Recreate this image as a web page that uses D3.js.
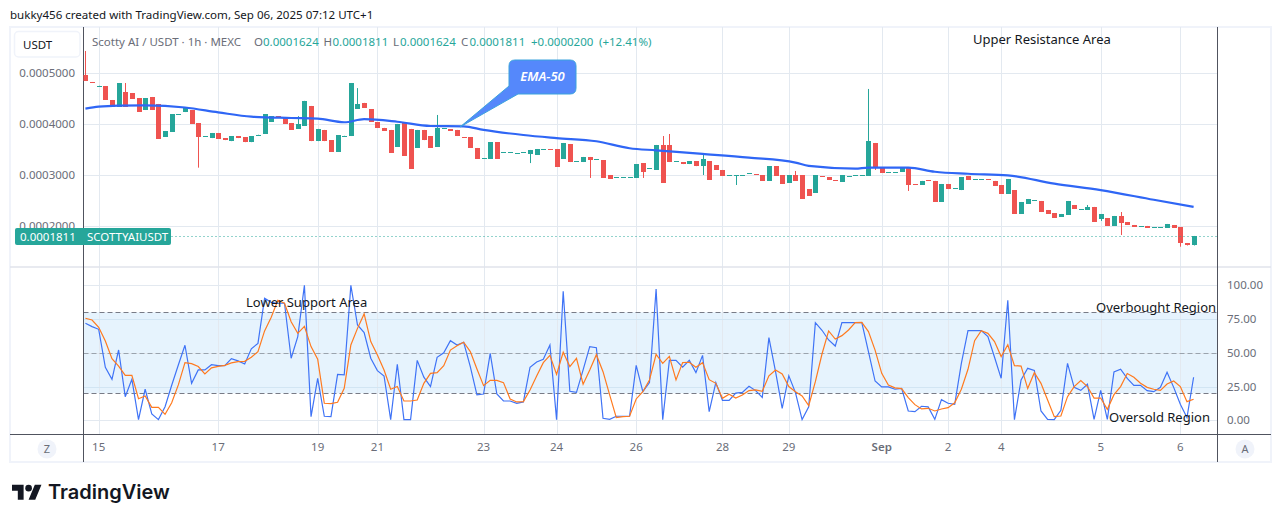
<!DOCTYPE html>
<html>
<head>
<meta charset="utf-8">
<title>SCOTTYAI/USDT</title>
<script src="https://cdn.jsdelivr.net/npm/d3@7/dist/d3.min.js"></script>
<style>
  html, body { margin: 0; padding: 0; background: #fff; }
  svg { display: block; }
  text { font-family: "Noto Sans", "Open Sans", sans-serif; }
</style>
</head>
<body>
<svg id="chart" width="1281" height="522"></svg>
<script>
// Prices are held in millionths of a USDT
const opens = [
  496.7,483,475.5,475,447.7,434,463.4,461.4,451.6,428,
  453.6,439.9,375.2,385,419.2,424,428,402,376,373,
  383,373,367,377,375,365,379.5,381,405,416,
  414,402.6,391,397,436,367,389,369,346,377.6,
  377,430,442,430,404.6,393,389,355.6,402.6,391,
  353.6,389,377,355.6,391.6,390,389,375,375,353.6,
  332.6,332,365,344.6,344.6,342.6,344.6,342,340,350.6,
  351.5,351.6,332,361.4,327.1,326,336,330.6,330,300.6,
  295.6,295.6,295.6,294.8,324,313.3,310.5,359.5,359.5,327.1,
  326,322,328,318,328,320,310.5,299.6,299.6,299.6,
  303.6,302.5,300.6,289,318,300.6,285,300.6,300.6,273,
  265.4,298.5,296.7,290.5,287,298.3,299.6,299.6,298.7,363.4,
  314.4,305.6,305.6,306.5,314.4,282.4,281,290.4,289,247.7,
  283,274.1,271,298.7,291.6,291.6,292.4,289,281,263.4,
  271,224.2,243.8,250.6,249.7,232,226,218.3,222.2,241.8,
  232.9,232,238,214.4,216.3,200.7,220.3,208.5,202.6,199.6,
  200.7,197.6,197.6,196.7,202.6,198.7,167.3,162.4
];
const closes = [
  485,481.5,476,448.4,434,481,434,449.7,424.2,451.6,
  428,371.2,386.9,420,419.8,432.7,400.7,375,376.6,383,
  372,369,377,373,365,377,380,420,416,414,
  401,389,400.7,446,367,391,367,346,379,378,
  481,439,432,404.6,393,387,344,400.7,338,312.4,
  389,369,353.6,392.8,392,387,377,374.5,353.6,332,
  333,365,332,345,345,343,345,349.7,351.6,351,
  351,316.3,363.4,326,327.5,336,330,331,294.8,292.8,
  296,296,296,322,306.5,313.7,359.5,285,326,327.5,
  322,328,318,332,291,310.5,298.7,300,300,300,
  304,302,289,318,298.7,283,300.6,289,253.6,259.5,
  300.6,298,291,290,300.6,298.7,300,300,367.3,314.4,
  304.6,306,306,314.4,281,282,289,290,247.7,283,
  273,274.5,296.7,291,292,292,292,279,263.4,292.8,
  224.2,247.7,253.6,251,228,224.2,216.3,224.2,249.7,234,
  233.3,238,208.5,224.2,200.7,220.3,206.5,202.6,198.7,200,
  196.7,198,198,204.6,196.7,167.3,162.4,181.1
];
// Candles whose wick runs past the body: [candle, price]
const upperWicks = [[0,543.8],[6,481],[32,416],[41,471],[53,418.3],[87,377],[88,381],[93,342],[107,308.5],[118,469.3],[151,241.8],[156,228]];
const lowerWicks = [[17,315],[67,324],[76,294.8],[84,294.8],[93,300.6],[98,281],[119,310.5],[124,269.3],[153,210.5],[156,183],[165,160]];

// EMA-50, read at the candles where its slope changes
const emaCandles = [0,2,5,9,15,20,25,31,35,39,42,47,52,57,60,66,71,77,82,86,93,100,107,109,116,118,124,128,133,139,146,153,161,167];
const emaValues = [430.7,434.6,436.6,437,433,423.5,415,412.4,411,404,410,405,396.7,396,389,379,373,366.7,353,349,342,334.6,325,318.3,313,315,315,307,303,300,283.7,271,252,238];

// Stochastic RSI, one value per candle
const stochK = [
  71.9,69.4,67.4,39.3,30.4,52.1,17.5,30.4,0.5,23,4.7,0.5,10,26,41,55.6,27.4,37.3,37.3,41.2,
  40.5,40.5,45.7,44,41.7,53,57,90.4,87.4,86.7,86.7,46,62,100,2.7,31,3,2.7,34,33.6,
  100,70.6,65,46,36.8,32.8,0.5,41.5,0.5,0.5,44.4,32,25,46.7,50,59,55.8,57.8,39.8,18.8,
  19.5,49.6,19.5,14.3,14.3,12.6,13.6,39.3,43.2,45.2,55.8,0.5,95.6,21.5,20.7,37.3,54.6,53.8,1.5,0.7,
  3,3,3,40.7,21.2,27.9,97.3,0.5,44.4,44.4,39.3,44.4,35.3,48.1,6.4,27.9,14.8,14.8,20.2,20.7,
  25.2,22,17,61.2,36,8.9,33,20.5,0.5,10,72.3,66.7,59.5,55,72.3,72.3,72.3,72.3,50.9,29.1,
  24.7,24.7,23,23.7,6.9,6.4,10.4,9.9,0.7,15.3,12.6,11.9,42.2,66.4,66.4,66.4,62,46.7,31.1,88.9,
  0.5,29.9,38.5,37,6.9,0.7,0.5,7.4,42.2,24.4,22.2,26.7,0.7,22.2,0.7,35.8,37.8,31,25.9,25.9,
  22,21.2,24.4,35.6,24.4,11.9,2,31.9
];
const stochD = [
  75.6,74.3,68.9,58.8,45.7,40.2,33.3,33.3,16,18,9.6,9.6,4.4,13,26.2,42.7,42,39.8,34.3,38.8,
  40,40.7,42.5,43.5,43.7,46.7,50.9,66.2,76.3,88.9,86.7,73,64.4,69.6,54.6,45.2,12.6,12.3,13.3,23.7,
  55.8,68.1,78.8,58.3,48.4,37.3,23,25,14.3,14.3,15,27.4,34.8,35.3,40.5,52,55.3,57.8,50.9,38,
  25.7,29.6,29.6,27.9,15.8,13.6,13.8,22.5,32.8,42.7,48.1,34,50.4,39.8,45.9,26.7,37.3,48.6,36,18.8,
  2,2.7,3,15.8,21.2,29.9,48.9,42.2,47.4,29.9,42.7,43,39.3,42.7,30.1,27.4,16.3,19.3,16.5,18.8,
  22,22.5,21.5,33,37.3,34.3,25,21.2,18,10.9,28.6,49.1,66.2,60.2,62.7,66.9,72.3,72.6,65.7,52,
  34.8,26.2,24,23.5,16.8,11.6,8.4,8.9,6.9,8.4,9.4,13,23,37.8,59,66.4,64.4,58.3,47.2,56,
  40.5,40.2,23.5,35.3,27.4,15,2.7,3.2,17.5,25,29.4,25,16.5,16.5,8.1,19,25,34.6,31.9,27.4,
  24.4,23,22.2,26.9,29.1,25,13.8,15.6
];

// Axis ticks
const priceTicks = [200, 300, 400, 500];
const rsiTicks = [0, 25, 50, 75, 100];
const rsiLevels = [20, 50, 80];
const dateCandles = [2,20,35,44,60,71,83,96,106,120,130,138,153,165];
const dateLabels = ["15","17","19","21","23","24","26","28","29","Sep","2","4","5","6"];

const lastPrice = 181.1;

const GREEN = "#26a69a", RED = "#ef5350", GRID = "#e3e9f0", DARK = "#50535e", MUTED = "#6a6d78";
const frame = { left: 10, top: 27, right: 1271, bottom: 462 };
const axisLeft = 83.5, axisRight = 1217.5, paneSplit = 267, paneBottom = 434.5;
const labelSize = 11.5;

const x = d3.scaleLinear().domain([0, 167]).range([85.43, 1193.6]);
const y = d3.scaleLinear().domain([200, 500]).range([226.3, 73.3]);
const r = d3.scaleLinear().domain([0, 100]).range([420.3, 285.3]);

const svg = d3.select("#chart");
svg.append("defs").append("clipPath").attr("id", "plot")
  .append("rect").attr("x", axisLeft).attr("y", frame.top)
  .attr("width", axisRight - axisLeft).attr("height", paneBottom - frame.top);

// Credit line above the frame
svg.append("text").attr("x", 10).attr("y", 19).attr("font-size", 11.55).attr("fill", "#131722")
  .text("bukky456 created with TradingView.com, Sep 06, 2025 07:12 UTC+1");

svg.append("rect")
  .attr("x", frame.left).attr("y", frame.top)
  .attr("width", frame.right - frame.left).attr("height", frame.bottom - frame.top)
  .attr("fill", "#fff").attr("stroke", "#f0f3fa").attr("stroke-width", 2);

// Overbought/oversold band
svg.append("rect").attr("x", axisLeft).attr("y", r(80))
  .attr("width", axisRight - axisLeft).attr("height", r(20) - r(80))
  .attr("fill", "#e6f3fd");

// Grid
const grid = svg.append("g").attr("stroke", GRID).attr("stroke-width", 1);
grid.selectAll(".vgrid").data(dateCandles).join("line").attr("class", "vgrid")
  .attr("x1", d => Math.round(x(d)) + 0.5).attr("x2", d => Math.round(x(d)) + 0.5)
  .attr("y1", frame.top).attr("y2", paneBottom);
grid.selectAll(".pgrid").data(priceTicks).join("line").attr("class", "pgrid")
  .attr("x1", axisLeft).attr("x2", axisRight)
  .attr("y1", d => Math.round(y(d)) + 0.5).attr("y2", d => Math.round(y(d)) + 0.5);
grid.selectAll(".rgrid").data(rsiTicks).join("line").attr("class", "rgrid")
  .attr("x1", axisLeft).attr("x2", axisRight)
  .attr("y1", d => Math.round(r(d)) + 0.5).attr("y2", d => Math.round(r(d)) + 0.5)
  .attr("stroke", d => (d === 25 || d === 75) ? "#d2e5f3" : GRID);

// RSI reference levels
svg.selectAll(".level").data(rsiLevels).join("line").attr("class", "level")
  .attr("x1", axisLeft).attr("x2", axisRight)
  .attr("y1", d => Math.round(r(d)) + 0.5).attr("y2", d => Math.round(r(d)) + 0.5)
  .attr("stroke", d => d === 50 ? "#9aa3ad" : "#787b86")
  .attr("stroke-dasharray", "5 3");

// Frame dividers
svg.append("line").attr("x1", frame.left).attr("x2", frame.right).attr("y1", paneSplit).attr("y2", paneSplit)
  .attr("stroke", "#e0e3eb").attr("stroke-width", 1.5);
svg.append("line").attr("x1", frame.left).attr("x2", frame.right).attr("y1", paneBottom).attr("y2", paneBottom)
  .attr("stroke", DARK);
[axisLeft, axisRight].forEach(p => svg.append("line")
  .attr("x1", p).attr("x2", p).attr("y1", frame.top).attr("y2", frame.bottom).attr("stroke", DARK));

// Price axis on the left of the upper pane
const priceAxis = svg.append("g").attr("transform", `translate(75,0)`)
  .call(d3.axisLeft(y).tickValues(priceTicks).tickSize(0).tickPadding(0)
    .tickFormat(d => (d * 1e-6).toFixed(7)));
priceAxis.select(".domain").remove();

// Indicator axis on the right of the lower pane
const rsiAxis = svg.append("g").attr("transform", `translate(1227,0)`)
  .call(d3.axisRight(r).tickValues(rsiTicks).tickSize(0).tickPadding(0)
    .tickFormat(d => d.toFixed(2)));
rsiAxis.select(".domain").remove();

// Date axis
const dateAxis = svg.append("g").attr("transform", `translate(-0.5,443)`)
  .call(d3.axisBottom(x).tickValues(dateCandles).tickSize(0).tickPadding(0)
    .tickFormat((d, i) => dateLabels[i]));
dateAxis.select(".domain").remove();

svg.selectAll(".tick text")
  .attr("font-size", labelSize).attr("fill", MUTED)
  .style("font-family", '"Noto Sans", "Open Sans", sans-serif');
dateAxis.selectAll(".tick text").filter((d, i) => dateLabels[i] === "Sep").attr("font-weight", 600);

const plot = svg.append("g").attr("clip-path", "url(#plot)");

// Candles
const candles = opens.map((o, i) => ({
  i, open: o, close: closes[i],
  high: (upperWicks.find(w => w[0] === i) || [0, Math.max(o, closes[i])])[1],
  low: (lowerWicks.find(w => w[0] === i) || [0, Math.min(o, closes[i])])[1]
}));
const candleGroup = plot.selectAll(".candle").data(candles).join("g").attr("class", "candle")
  .attr("fill", d => d.close >= d.open ? GREEN : RED);
candleGroup.append("rect")
  .attr("x", d => Math.round(x(d.i)) )
  .attr("width", 1)
  .attr("y", d => y(d.high))
  .attr("height", d => y(d.low) - y(d.high));
candleGroup.append("rect")
  .attr("x", d => Math.round(x(d.i)) - 2)
  .attr("width", 5)
  .attr("y", d => Math.round(y(Math.max(d.open, d.close))))
  .attr("height", d => Math.max(1, Math.round(y(Math.min(d.open, d.close))) - Math.round(y(Math.max(d.open, d.close)))));

// EMA-50
plot.append("path")
  .attr("d", d3.line().x((d, i) => x(emaCandles[i])).y(d => y(d)).curve(d3.curveMonotoneX)(emaValues))
  .attr("fill", "none").attr("stroke", "#2f66f5").attr("stroke-width", 2.2);

// Last price line
plot.append("line").attr("x1", axisLeft).attr("x2", axisRight)
  .attr("y1", Math.round(y(lastPrice)) + 0.5).attr("y2", Math.round(y(lastPrice)) + 0.5)
  .attr("stroke", GREEN).attr("stroke-dasharray", "1 3");

// Stochastic RSI lines
const rsiLine = d3.line().x((d, i) => x(i)).y(d => r(d));
plot.append("path").attr("d", rsiLine(stochK)).attr("fill", "none").attr("stroke", "#3f73f6").attr("stroke-width", 1.2);
plot.append("path").attr("d", rsiLine(stochD)).attr("fill", "none").attr("stroke", "#ff7a1f").attr("stroke-width", 1.2);

// Last price tag
svg.append("rect").attr("x", 15).attr("y", 228).attr("width", 156).attr("height", 17).attr("rx", 2).attr("fill", GREEN);
svg.append("text").attr("x", 20).attr("y", 241).attr("font-size", labelSize).attr("fill", "#fff").text("0.0001811");
svg.append("text").attr("x", 87).attr("y", 241).attr("font-size", labelSize).attr("fill", "#fff").text("SCOTTYAIUSDT");

// Currency button
svg.append("rect").attr("x", 14.5).attr("y", 31.5).attr("width", 65.5).attr("height", 25.5).attr("rx", 4)
  .attr("fill", "#fff").attr("stroke", "#f0f3fa").attr("stroke-width", 1.5);
svg.append("text").attr("x", 23).attr("y", 49).attr("font-size", labelSize).attr("fill", "#131722").text("USDT");

// Instrument legend, each field set at its own column
const legend = svg.append("text").attr("y", 46).attr("font-size", labelSize);
[["Scotty AI / USDT · 1h · MEXC", MUTED, 92],
 ["O", MUTED, 254], ["0.0001624", GREEN, 263],
 ["H", MUTED, 323.5], ["0.0001811", GREEN, 332.5],
 ["L", MUTED, 393], ["0.0001624", GREEN, 400],
 ["C", MUTED, 461], ["0.0001811", GREEN, 469.5],
 ["+0.0000200", GREEN, 531], ["(+12.41%)", GREEN, 599]]
  .forEach(([t, c, px]) => legend.append("tspan").attr("x", px).attr("fill", c).text(t));

// Hand-placed annotations
const notes = [
  ["Upper Resistance Area", 973, 44],
  ["Lower Support Area", 246, 307],
  ["Overbought Region", 1096, 312],
  ["Oversold Region", 1109, 422]
];
svg.selectAll(".note").data(notes).join("text").attr("class", "note")
  .attr("x", d => d[1]).attr("y", d => d[2]).attr("font-size", 13).attr("fill", "#131722").text(d => d[0]);

// EMA callout
svg.append("path")
  .attr("d", "M515 60 H570 Q576 60 576 66 V88 Q576 94 570 94 H518 L460 127 L509 86 V66 Q509 60 515 60 Z")
  .attr("fill", "#5588fb").attr("stroke", "#3ba3dc").attr("stroke-width", 1);
svg.append("text").attr("x", 542.5).attr("y", 81).attr("text-anchor", "middle")
  .attr("font-size", 13).attr("font-style", "italic").attr("font-weight", 600).attr("fill", "#fff").text("EMA-50");

// Scale-mode buttons
[["Z", 47, 449], ["A", 1245, 449]].forEach(([t, cx, cy]) => {
  svg.append("circle").attr("cx", cx).attr("cy", cy).attr("r", 9.5).attr("fill", "#f0f3fa");
  svg.append("text").attr("x", cx).attr("y", cy + 4).attr("text-anchor", "middle")
    .attr("font-size", 11).attr("fill", MUTED).text(t);
});

// Wordmark
const mark = svg.append("g").attr("transform", "translate(12,481.5) scale(0.83)").attr("fill", "#131722");
mark.append("path").attr("d", "M14 22H7V11H0V4h14v18zM28 22h-8l7.5-18h8L28 22z");
mark.append("circle").attr("cx", 20).attr("cy", 8).attr("r", 4);
svg.append("text").attr("x", 48).attr("y", 499).attr("font-size", 20).attr("font-weight", 600)
  .attr("fill", "#131722").style("font-family", "Inter, Roboto, sans-serif").text("TradingView");
</script>
</body>
</html>
